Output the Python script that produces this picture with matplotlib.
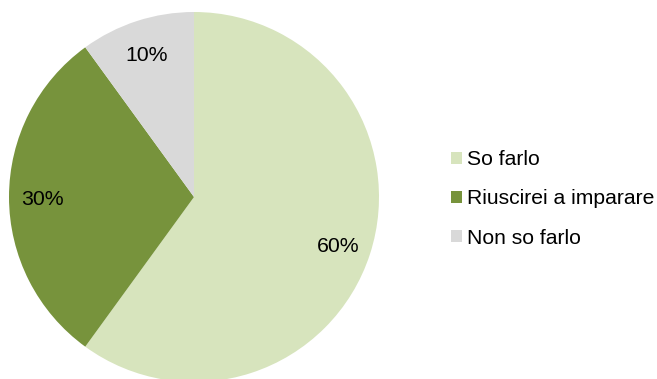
import matplotlib.pyplot as plt
from matplotlib.patches import Patch

plt.rcParams['font.family'] = ['Liberation Sans', 'DejaVu Sans']

labels = ['So farlo', 'Riuscirei a imparare', 'Non so farlo']
shares = [60, 30, 10]
colors = ['#D7E4BD', '#77933C', '#D9D9D9']

W, H = 657, 379
cx, cy, r = 194, 197, 185

fig = plt.figure(figsize=(W / 100, H / 100), dpi=100)
ax = fig.add_axes([0, 0, 1, 1])

wedges, texts = ax.pie(shares, colors=colors, startangle=90, counterclock=False,
                       radius=1, labels=[f'{v}%' for v in shares],
                       labeldistance=0.82, frame=True,
                       textprops={'fontsize': 15.3, 'color': 'black',
                                  'ha': 'center', 'va': 'center'})
# nudge the percentage labels slightly downward
for t in texts:
    x, y = t.get_position()
    t.set_position((x, y - 0.015))

ax.set_xlim(-cx / r, (W - cx) / r)
ax.set_ylim(-(H - cy) / r, cy / r)
ax.set_aspect('auto')
ax.axis('off')

handles = [Patch(facecolor=c, edgecolor='none') for c in colors]
fig.legend(handles, labels, loc='center left', bbox_to_anchor=(451 / W, 1 - 199 / H),
           frameon=False, fontsize=15.2, handlelength=0.52, handleheight=0.52,
           handletextpad=0.25, labelspacing=0.95, borderpad=0, borderaxespad=0)

fig.savefig('out.png', dpi=100)
